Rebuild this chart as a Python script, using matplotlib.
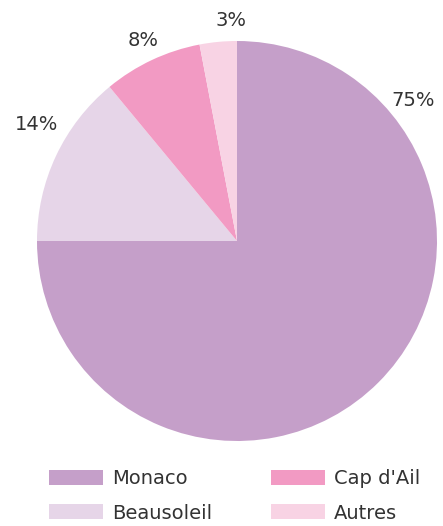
import matplotlib
matplotlib.use('Agg')
import matplotlib.pyplot as plt

# Répartition par commune de résidence
labels = ['Monaco', 'Beausoleil', "Cap d'Ail", 'Autres']
parts = [75, 14, 8, 3]
colors = ['#c59fc9', '#e6d5e8', '#f29ac3', '#f8d3e4']

# positions des étiquettes de pourcentage (en rayons, centre = 0,0)
label_pos = [(0.88, 0.705), (-1.0, 0.58), (-0.47, 1.005), (-0.03, 1.105)]

plt.rcParams['font.family'] = ['DejaVu Sans']

W, H = 443, 526
fig = plt.figure(figsize=(W / 100, H / 100), dpi=100)

# camembert : centre (237, 241) px, rayon 200 px
cx, cy, r = 237, 241, 200
ax = fig.add_axes([(cx - r) / W, (H - cy - r) / H, 2 * r / W, 2 * r / H])
wedges, _ = ax.pie(parts, colors=colors, startangle=90, counterclock=False,
                   wedgeprops=dict(linewidth=0))
ax.set_xlim(-1, 1)
ax.set_ylim(-1, 1)
ax.set_aspect('equal')
ax.axis('off')

for v, (x, y) in zip(parts, label_pos):
    ax.text(x, y, f'{v}%', ha='center', va='center', fontsize=14, color='#333333')

fig.legend(wedges, labels, ncol=2, loc='upper left',
           bbox_to_anchor=(49 / W, (H - 469) / H), frameon=False,
           fontsize=14, handlelength=2.8, handleheight=0.78,
           handletextpad=0.45, columnspacing=3.0, labelspacing=0.8,
           borderpad=0, borderaxespad=0, labelcolor='#333333')

fig.savefig('out.png', dpi=100)
